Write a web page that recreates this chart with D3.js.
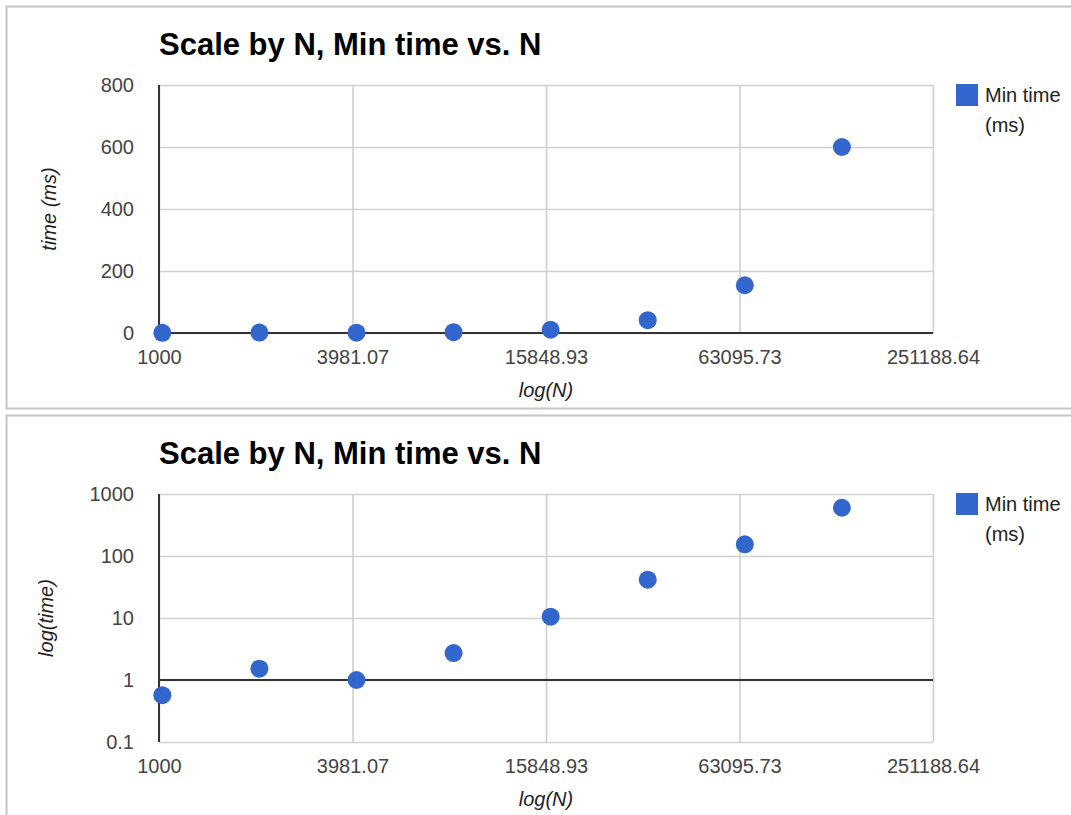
<!DOCTYPE html>
<html>
<head>
<meta charset="utf-8">
<script src="https://cdn.jsdelivr.net/npm/d3@7"></script>
<style>
  body { margin: 0; background: #fff; }
  svg text { font-family: Arial, "Liberation Sans", sans-serif; }
</style>
</head>
<body>
<svg id="chart" width="1071" height="815"></svg>
<script>
// data
const nValues = [1024, 2048, 4096, 8192, 16384, 32768, 65536, 131072];
const minTimes = [0.57, 1.52, 1.0, 2.72, 10.5, 41.5, 154, 600];
const xTicks = [1000, 3981.07, 15848.93, 63095.73, 251188.64];
const linTicks = [0, 200, 400, 600, 800];
const logTicks = [0.1, 1, 10, 100, 1000];
const titleText = "Scale by N, Min time vs. N";
const seriesName = ["Min time", "(ms)"];

const points = nValues.map((n, i) => ({n: n, t: minTimes[i]}));

const svg = d3.select("#chart");
const blue = "#3366cc";

function drawPanel(offsetY, logY) {
  const panel = svg.append("g").attr("transform", "translate(0," + offsetY + ")");
  const left = 159, right = 933, top = 85, bottom = 333;
  const width = right - left, height = bottom - top;

  // panel frame
  panel.append("rect")
    .attr("x", 6.5).attr("y", 6.5)
    .attr("width", 1090).attr("height", logY ? 500 : 402)
    .attr("fill", "#fff").attr("stroke", "#c6c6c6").attr("stroke-width", 2);

  panel.append("text")
    .attr("x", 159).attr("y", 55)
    .attr("font-size", 31).attr("font-weight", "bold").attr("fill", "#000")
    .text(titleText);

  const x = d3.scaleLog().domain([xTicks[0], xTicks[xTicks.length - 1]]).range([0, width]);
  const y = logY
    ? d3.scaleLog().domain([0.1, 1000]).range([height, 0])
    : d3.scaleLinear().domain([0, 800]).range([height, 0]);
  const yTicks = logY ? logTicks : linTicks;

  const g = panel.append("g").attr("transform", "translate(" + left + "," + top + ")");

  // gridlines
  g.append("g").attr("class", "grid")
    .call(d3.axisBottom(x).tickValues(xTicks).tickSize(height).tickFormat(""))
    .call(s => s.select(".domain").remove())
    .selectAll("line").attr("stroke", "#d0d0d0").attr("stroke-width", 1.6);
  g.append("g").attr("class", "grid")
    .call(d3.axisLeft(y).tickValues(yTicks).tickSize(-width).tickFormat(""))
    .call(s => s.select(".domain").remove())
    .selectAll("line").attr("stroke", "#d0d0d0").attr("stroke-width", 1.6);

  // tick labels
  g.append("g").attr("transform", "translate(0," + height + ")")
    .call(d3.axisBottom(x).tickValues(xTicks).tickSize(0).tickPadding(17).tickFormat(d => String(d)))
    .call(s => s.select(".domain").remove())
    .selectAll("text").attr("font-size", 20).attr("fill", "#444")
    .attr("font-family", "Arial, 'Liberation Sans', sans-serif");
  g.append("g")
    .call(d3.axisLeft(y).tickValues(yTicks).tickSize(0).tickPadding(25).tickFormat(d => String(d)))
    .call(s => s.select(".domain").remove())
    .selectAll("text").attr("font-size", 20).attr("fill", "#444")
    .attr("font-family", "Arial, 'Liberation Sans', sans-serif");

  // baselines
  const baseY = logY ? y(1) : y(0);
  g.append("line").attr("x1", 0).attr("x2", width).attr("y1", baseY).attr("y2", baseY)
    .attr("stroke", "#333").attr("stroke-width", 2);
  g.append("line").attr("x1", 0).attr("x2", 0).attr("y1", 0).attr("y2", height)
    .attr("stroke", "#333").attr("stroke-width", 2);

  // points
  g.selectAll(".dot")
    .data(points)
    .enter().append("circle")
    .attr("class", "dot")
    .attr("cx", d => x(d.n))
    .attr("cy", d => y(d.t))
    .attr("r", 9)
    .attr("fill", blue);

  // axis titles
  panel.append("text")
    .attr("x", (left + right) / 2).attr("y", 397)
    .attr("text-anchor", "middle").attr("font-size", 20).attr("font-style", "italic").attr("fill", "#222")
    .text("log(N)");
  panel.append("text")
    .attr("transform", "translate(" + (logY ? 53 : 56) + "," + ((top + bottom) / 2) + ") rotate(-90)")
    .attr("text-anchor", "middle").attr("font-size", 20).attr("font-style", "italic").attr("fill", "#222")
    .text(logY ? "log(time)" : "time (ms)");

  // legend
  panel.append("rect").attr("x", 956).attr("y", 84).attr("width", 22).attr("height", 22).attr("fill", blue);
  panel.selectAll(".leg")
    .data(seriesName)
    .enter().append("text")
    .attr("x", 985).attr("y", (d, i) => 102 + i * 29.5)
    .attr("font-size", 20).attr("fill", "#222")
    .text(d => d);
}

drawPanel(0, false);
drawPanel(409, true);
</script>
</body>
</html>
